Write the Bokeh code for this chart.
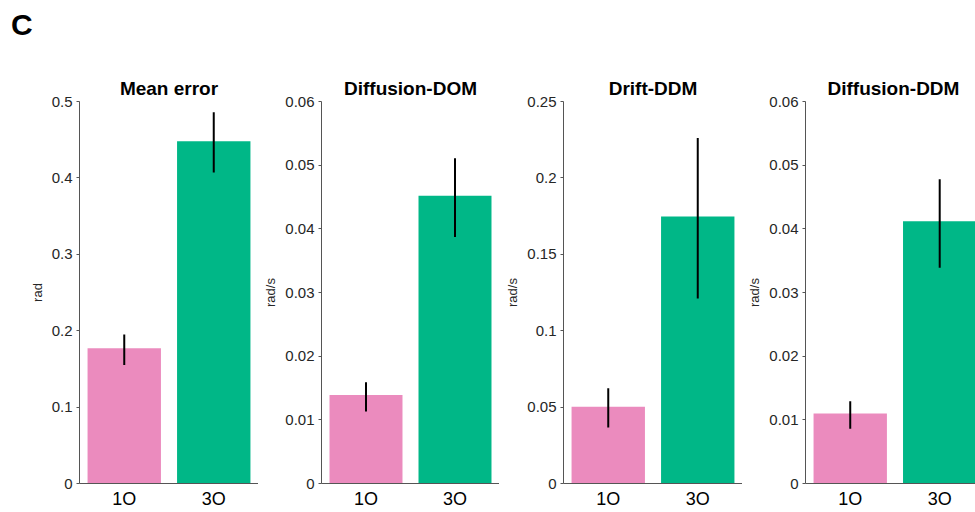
from bokeh.plotting import figure
from bokeh.layouts import row, column
from bokeh.models import Range1d, FixedTicker, Title, Div
from bokeh.embed import file_html
from bokeh.resources import INLINE

# ---- data ----
categories = ["1O", "3O"]
titles = ["Mean error", "Diffusion-DOM", "Drift-DDM", "Diffusion-DDM"]
ylabels = ["rad", "rad/s", "rad/s", "rad/s"]
means_1o = [0.177, 0.0139, 0.0503, 0.0110]
means_3o = [0.448, 0.0452, 0.1747, 0.0412]
err_lo_1o = [0.155, 0.0113, 0.0366, 0.0086]
err_hi_1o = [0.195, 0.0159, 0.0623, 0.0129]
err_lo_3o = [0.407, 0.0387, 0.1211, 0.0339]
err_hi_3o = [0.486, 0.0511, 0.2261, 0.0478]
y_max = [0.5, 0.06, 0.25, 0.06]
y_ticks = [
    [0, 0.1, 0.2, 0.3, 0.4, 0.5],
    [0, 0.01, 0.02, 0.03, 0.04, 0.05, 0.06],
    [0, 0.05, 0.1, 0.15, 0.2, 0.25],
    [0, 0.01, 0.02, 0.03, 0.04, 0.05, 0.06],
]
y_tick_labels = [
    ["0", "0.1", "0.2", "0.3", "0.4", "0.5"],
    ["0", "0.01", "0.02", "0.03", "0.04", "0.05", "0.06"],
    ["0", "0.05", "0.1", "0.15", "0.2", "0.25"],
    ["0", "0.01", "0.02", "0.03", "0.04", "0.05", "0.06"],
]
bar_colors = ["#EB8BBE", "#00B787"]
panel_letter = "C"

# ---- layout ----
FONT = "Liberation Sans"
fig_widths = [258, 241, 243, 233]
left_borders = [79, 63, 64, 63]
x_ends = [2.5, 2.5, 2.5, 2.4]
positions = [1, 2]
HEADER_H = 44
H = 512 - HEADER_H
TOP = 101 - HEADER_H
BOTTOM = 29


def make_title(text, align="center", offset=0, standoff=6, size="19px"):
    return Title(text=text, align=align, offset=offset, standoff=standoff,
                 text_font=FONT, text_font_size=size, text_font_style="bold",
                 text_color="black")


figs = []
for i in range(4):
    p = figure(width=fig_widths[i], height=H, output_backend="svg", toolbar_location=None,
               x_range=Range1d(0.5, x_ends[i]), y_range=Range1d(0, y_max[i]),
               min_border_left=left_borders[i], min_border_right=0,
               min_border_top=TOP, min_border_bottom=BOTTOM, title=None)
    p.outline_line_color = None
    p.grid.visible = False
    p.background_fill_color = "white"
    p.border_fill_color = "white"

    tops = [means_1o[i], means_3o[i]]
    p.vbar(x=positions, top=tops, bottom=0, width=0.82, fill_color=bar_colors, line_color=None)
    p.segment(x0=positions, x1=positions,
              y0=[err_lo_1o[i], err_lo_3o[i]], y1=[err_hi_1o[i], err_hi_3o[i]],
              line_color="black", line_width=2)

    # title
    if i == 3:
        p.add_layout(make_title(titles[i], align="left", offset=22), "above")
    else:
        p.add_layout(make_title(titles[i]), "above")

    # y axis
    ya = p.yaxis[0]
    ya.ticker = FixedTicker(ticks=y_ticks[i])
    ya.major_label_overrides = {t: l for t, l in zip(y_ticks[i], y_tick_labels[i])}
    ya.minor_tick_line_color = None
    ya.major_tick_out = 3
    ya.major_tick_in = 0
    ya.major_label_standoff = 4
    ya.major_label_text_font = FONT
    ya.major_label_text_font_size = "15px"
    ya.major_label_text_color = "#262626"
    ya.axis_line_color = "#555555"
    ya.major_tick_line_color = "#555555"
    ya.axis_label = ylabels[i]
    ya.axis_label_text_font = FONT
    ya.axis_label_text_font_size = "13px"
    ya.axis_label_text_font_style = "normal"
    ya.axis_label_text_color = "#262626"
    ya.axis_label_standoff = 4

    # x axis
    xa = p.xaxis[0]
    xa.ticker = FixedTicker(ticks=positions)
    xa.major_label_overrides = {pos: c for pos, c in zip(positions, categories)}
    xa.minor_tick_line_color = None
    xa.major_tick_line_color = None
    xa.major_tick_out = 0
    xa.major_tick_in = 0
    xa.major_label_standoff = 5
    xa.major_label_text_font = FONT
    xa.major_label_text_font_size = "18px"
    xa.major_label_text_color = "black"
    xa.axis_line_color = "#555555"

    figs.append(p)

header = Div(
    text=(f'<div style="font-family: \'{FONT}\'; font-size: 30px; font-weight: bold; '
          f'line-height: 30px; color: black; padding: 10px 0 0 11px;">{panel_letter}</div>'),
    width=200, height=HEADER_H, margin=(0, 0, 0, 0))

layout = column(header, row(*figs, spacing=0), spacing=0)
open("out.html", "w").write(file_html(layout, INLINE))
